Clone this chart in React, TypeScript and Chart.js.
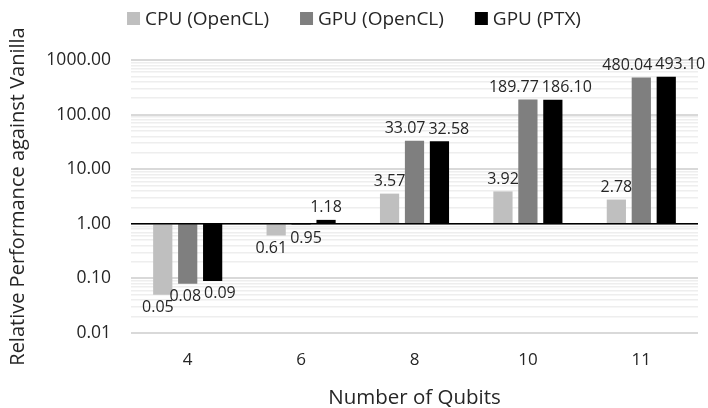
import React, { useEffect, useRef } from "react";
import { Chart, registerables } from "chart.js";

Chart.register(...registerables);

const categories = ["4", "6", "8", "10", "11"];
const seriesNames = ["CPU (OpenCL)", "GPU (OpenCL)", "GPU (PTX)"];
const cpuOpenCL = [0.05, 0.61, 3.57, 3.92, 2.78];
const gpuOpenCL = [0.08, 0.95, 33.07, 189.77, 480.04];
const gpuPTX = [0.09, 1.18, 32.58, 186.1, 493.1];
const seriesColors = ["#bfbfbf", "#7f7f7f", "#000000"];
const yMin = 0.01;
const yMax = 1000;
const baseValue = 1;

const FONT = "'Open Sans', sans-serif";
const TEXT = "#262626";

const legendPlugin = {
  id: "customLegend",
  afterDraw(chart: any) {
    const ctx = chart.ctx;
    ctx.save();
    ctx.font = `19px ${FONT}`;
    ctx.textBaseline = "middle";
    const box = 13;
    const gap = 5;
    const itemGap = 31;
    const widths = seriesNames.map((n) => ctx.measureText(n).width);
    const total = widths.reduce((a, w) => a + box + gap + w, 0) + itemGap * (seriesNames.length - 1);
    let x = (chart.width - total) / 2;
    const y = 18.5;
    seriesNames.forEach((n, i) => {
      ctx.fillStyle = seriesColors[i];
      ctx.fillRect(x, y - box / 2, box, box);
      ctx.fillStyle = TEXT;
      ctx.textAlign = "left";
      ctx.fillText(n, x + box + gap, y + 1);
      x += box + gap + widths[i] + itemGap;
    });
    ctx.restore();
  },
};

const baseLinePlugin = {
  id: "baseLine",
  afterDatasetsDraw(chart: any) {
    const { ctx, chartArea } = chart;
    const y = chart.scales.y.getPixelForValue(baseValue);
    ctx.save();
    ctx.strokeStyle = "#000000";
    ctx.lineWidth = 1.5;
    ctx.beginPath();
    ctx.moveTo(chartArea.left, y);
    ctx.lineTo(chartArea.right, y);
    ctx.stroke();
    ctx.restore();
  },
};

const valueLabelPlugin = {
  id: "valueLabels",
  afterDatasetsDraw(chart: any) {
    const ctx = chart.ctx;
    const yScale = chart.scales.y;
    ctx.save();
    ctx.font = `16px ${FONT}`;
    const h = 16;
    const labels: any[][] = categories.map(() => []);
    chart.data.datasets.forEach((ds: any, di: number) => {
      const meta = chart.getDatasetMeta(di);
      meta.data.forEach((el: any, i: number) => {
        const v = ds.data[i][1];
        const text = v.toFixed(2);
        const w = ctx.measureText(text).width;
        const up = v >= baseValue;
        const py = yScale.getPixelForValue(v);
        const cy = up ? py - 12 : py + 13;
        labels[i].push({ text, w, cx: el.x, cy });
      });
    });
    labels.forEach((group) => {
      for (let k = 0; k < group.length - 1; k++) {
        const a = group[k];
        const b = group[k + 1];
        if (Math.abs(a.cy - b.cy) < h) {
          const overlap = a.cx + a.w / 2 + 3 - (b.cx - b.w / 2);
          if (overlap > 0) {
            a.cx -= overlap / 2;
            b.cx += overlap / 2;
          }
        }
      }
      group.forEach((l) => {
        ctx.fillStyle = TEXT;
        ctx.textAlign = "center";
        ctx.textBaseline = "middle";
        ctx.fillText(l.text, l.cx, l.cy);
      });
    });
    ctx.restore();
  },
};

export default function App() {
  const ref = useRef<HTMLCanvasElement>(null);
  useEffect(() => {
    document.body.style.margin = "0";
    const series = [cpuOpenCL, gpuOpenCL, gpuPTX];
    const chart = new Chart(ref.current!, {
      type: "bar",
      data: {
        labels: categories,
        datasets: series.map((s, i) => ({
          label: seriesNames[i],
          data: s.map((v) => [baseValue, v]),
          backgroundColor: seriesColors[i],
          borderWidth: 0,
          categoryPercentage: 0.66,
          barPercentage: 0.77,
        })),
      },
      options: {
        animation: false,
        responsive: false,
        maintainAspectRatio: false,
        layout: { padding: { top: 60, right: 10, left: 0, bottom: 0 } },
        plugins: {
          legend: { display: false },
          tooltip: { enabled: false },
        },
        scales: {
          x: {
            grid: { display: false, drawTicks: false },
            border: { display: false },
            ticks: { color: TEXT, font: { family: FONT, size: 17 }, padding: 17 },
            title: {
              display: true,
              text: "Number of Qubits",
              color: TEXT,
              font: { family: FONT, size: 20.5 },
              padding: { top: 8, bottom: -2 },
            },
            afterFit(scale: any) {
              scale.height = 75;
            },
          },
          y: {
            type: "logarithmic",
            min: yMin,
            max: yMax,
            border: { display: false },
            grid: {
              drawTicks: false,
              color: (c: any) => {
                const v = c.tick?.value;
                const l = Math.log10(v);
                return Math.abs(l - Math.round(l)) < 1e-6 ? "#d9d9d9" : "#eeeeee";
              },
              lineWidth: (c: any) => {
                const v = c.tick?.value;
                const l = Math.log10(v);
                return Math.abs(l - Math.round(l)) < 1e-6 ? 2 : 1.5;
              },
            },
            afterBuildTicks(scale: any) {
              const ticks: any[] = [];
              for (let e = -2; e <= 3; e++) {
                for (let m = 1; m <= 9; m++) {
                  const v = m * Math.pow(10, e);
                  if (v > yMax * 1.0001) break;
                  ticks.push({ value: v, major: m === 1 });
                }
              }
              scale.ticks = ticks;
            },
            ticks: {
              color: TEXT,
              font: { family: FONT, size: 17.5 },
              padding: 20,
              autoSkip: false,
              callback: (v: any) => {
                const l = Math.log10(Number(v));
                return Math.abs(l - Math.round(l)) < 1e-6 ? Number(v).toFixed(2) : "";
              },
            },
            title: {
              display: true,
              text: "Relative Performance against Vanilla",
              color: TEXT,
              font: { family: FONT, size: 20 },
              padding: { top: 6, bottom: 0 },
            },
            afterFit(scale: any) {
              scale.width = 131;
            },
          },
        },
      },
      plugins: [legendPlugin, baseLinePlugin, valueLabelPlugin],
    } as any);
    return () => chart.destroy();
  }, []);
  return (
    <div style={{ width: 708, height: 408 }}>
      <canvas ref={ref} width={708} height={408} style={{ display: "block" }} />
    </div>
  );
}
